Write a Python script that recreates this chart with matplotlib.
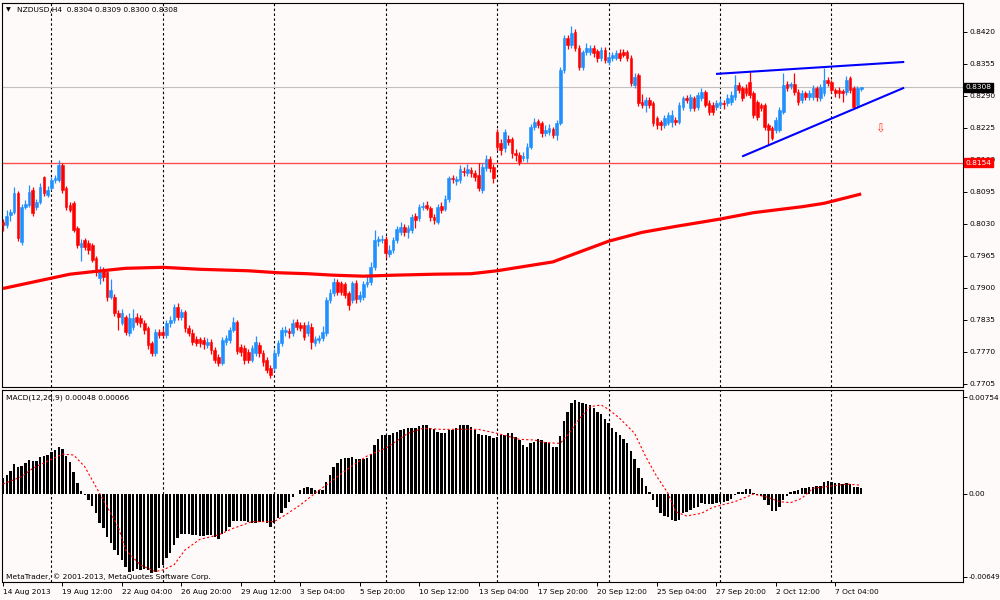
import numpy as np
import matplotlib
matplotlib.use('Agg')
import matplotlib.pyplot as plt
from matplotlib.transforms import blended_transform_factory

plt.rcParams['font.family'] = ['DejaVu Sans']

# NZDUSD H4 candles
opens = [
    0.8034, 0.8028, 0.8048, 0.8054, 0.8093, 0.7993, 0.8065, 0.8069, 0.8099, 0.8065,
    0.8075, 0.8125, 0.8089, 0.8103, 0.8119, 0.8119, 0.8150, 0.8103, 0.8069, 0.8073,
    0.8022, 0.7983, 0.7998, 0.7991, 0.7987, 0.7961, 0.7920, 0.7937, 0.7933, 0.7882,
    0.7882, 0.7849, 0.7829, 0.7841, 0.7809, 0.7821, 0.7841, 0.7839, 0.7829, 0.7819,
    0.7788, 0.7768, 0.7811, 0.7811, 0.7805, 0.7829, 0.7835, 0.7861, 0.7841, 0.7851,
    0.7819, 0.7809, 0.7796, 0.7796, 0.7794, 0.7784, 0.7790, 0.7774, 0.7760, 0.7748,
    0.7790, 0.7794, 0.7815, 0.7831, 0.7780, 0.7778, 0.7770, 0.7754, 0.7768, 0.7784,
    0.7768, 0.7754, 0.7738, 0.7738, 0.7768, 0.7788, 0.7811, 0.7813, 0.7809, 0.7831,
    0.7825, 0.7825, 0.7809, 0.7821, 0.7788, 0.7794, 0.7798, 0.7809, 0.7876, 0.7890,
    0.7912, 0.7910, 0.7908, 0.7890, 0.7876, 0.7910, 0.7878, 0.7882, 0.7908, 0.7912,
    0.7943, 0.7995, 0.7998, 0.8000, 0.7969, 0.7977, 0.7998, 0.8014, 0.8024, 0.8014,
    0.8018, 0.8046, 0.8042, 0.8065, 0.8069, 0.8063, 0.8044, 0.8034, 0.8067, 0.8061,
    0.8081, 0.8123, 0.8117, 0.8119, 0.8138, 0.8134, 0.8140, 0.8134, 0.8130, 0.8099,
    0.8144, 0.8162, 0.8146, 0.8217, 0.8195, 0.8184, 0.8203, 0.8203, 0.8174, 0.8170,
    0.8164, 0.8164, 0.8186, 0.8227, 0.8239, 0.8235, 0.8215, 0.8217, 0.8223, 0.8211,
    0.8235, 0.8343, 0.8408, 0.8394, 0.8420, 0.8388, 0.8349, 0.8379, 0.8379, 0.8388,
    0.8381, 0.8367, 0.8383, 0.8359, 0.8367, 0.8367, 0.8377, 0.8379, 0.8379, 0.8367,
    0.8312, 0.8333, 0.8278, 0.8272, 0.8282, 0.8276, 0.8245, 0.8237, 0.8231, 0.8235,
    0.8237, 0.8241, 0.8237, 0.8268, 0.8286, 0.8266, 0.8286, 0.8268, 0.8286, 0.8298,
    0.8276, 0.8272, 0.8268, 0.8272, 0.8276, 0.8276, 0.8278, 0.8288, 0.8312, 0.8306,
    0.8306, 0.8318, 0.8296, 0.8278, 0.8272, 0.8272, 0.8231, 0.8225, 0.8221, 0.8221,
    0.8258, 0.8314, 0.8310, 0.8314, 0.8298, 0.8282, 0.8296, 0.8288, 0.8288, 0.8306,
    0.8286, 0.8296, 0.8323, 0.8318, 0.8302, 0.8302, 0.8300, 0.8298, 0.8327, 0.8306,
    0.8272, 0.8304,
]
highs = [
    0.8040, 0.8058, 0.8060, 0.8105, 0.8097, 0.8071, 0.8079, 0.8109, 0.8105, 0.8081,
    0.8113, 0.8128, 0.8107, 0.8125, 0.8130, 0.8160, 0.8154, 0.8107, 0.8075, 0.8077,
    0.8026, 0.8000, 0.8002, 0.7998, 0.7991, 0.7965, 0.7945, 0.7943, 0.7937, 0.7918,
    0.7888, 0.7855, 0.7857, 0.7845, 0.7849, 0.7857, 0.7849, 0.7845, 0.7835, 0.7823,
    0.7792, 0.7817, 0.7817, 0.7819, 0.7835, 0.7843, 0.7867, 0.7869, 0.7857, 0.7855,
    0.7825, 0.7817, 0.7803, 0.7800, 0.7800, 0.7798, 0.7796, 0.7780, 0.7766, 0.7800,
    0.7805, 0.7821, 0.7841, 0.7835, 0.7786, 0.7784, 0.7776, 0.7784, 0.7803, 0.7790,
    0.7774, 0.7760, 0.7744, 0.7776, 0.7794, 0.7821, 0.7823, 0.7819, 0.7837, 0.7837,
    0.7831, 0.7831, 0.7833, 0.7829, 0.7803, 0.7805, 0.7823, 0.7882, 0.7898, 0.7920,
    0.7918, 0.7914, 0.7912, 0.7894, 0.7914, 0.7916, 0.7894, 0.7914, 0.7924, 0.7953,
    0.8018, 0.8006, 0.8008, 0.8006, 0.7987, 0.8004, 0.8026, 0.8034, 0.8030, 0.8028,
    0.8050, 0.8052, 0.8071, 0.8075, 0.8077, 0.8067, 0.8050, 0.8071, 0.8075, 0.8089,
    0.8128, 0.8130, 0.8128, 0.8150, 0.8146, 0.8152, 0.8146, 0.8140, 0.8154, 0.8154,
    0.8170, 0.8168, 0.8152, 0.8223, 0.8203, 0.8223, 0.8211, 0.8207, 0.8182, 0.8176,
    0.8176, 0.8195, 0.8233, 0.8245, 0.8243, 0.8239, 0.8231, 0.8233, 0.8227, 0.8241,
    0.8349, 0.8414, 0.8414, 0.8433, 0.8426, 0.8394, 0.8383, 0.8398, 0.8394, 0.8394,
    0.8386, 0.8390, 0.8390, 0.8377, 0.8379, 0.8383, 0.8386, 0.8386, 0.8383, 0.8373,
    0.8337, 0.8337, 0.8294, 0.8288, 0.8288, 0.8280, 0.8249, 0.8241, 0.8251, 0.8258,
    0.8262, 0.8247, 0.8278, 0.8290, 0.8292, 0.8294, 0.8290, 0.8298, 0.8306, 0.8302,
    0.8282, 0.8278, 0.8282, 0.8286, 0.8282, 0.8294, 0.8300, 0.8333, 0.8318, 0.8310,
    0.8314, 0.8339, 0.8300, 0.8282, 0.8276, 0.8276, 0.8235, 0.8229, 0.8247, 0.8268,
    0.8337, 0.8320, 0.8318, 0.8337, 0.8304, 0.8302, 0.8300, 0.8302, 0.8312, 0.8310,
    0.8314, 0.8347, 0.8329, 0.8323, 0.8306, 0.8308, 0.8304, 0.8331, 0.8331, 0.8310,
    0.8310, 0.8309,
]
lows = [
    0.8016, 0.8022, 0.8036, 0.8050, 0.7995, 0.7987, 0.8061, 0.8065, 0.8046, 0.8058,
    0.8071, 0.8087, 0.8085, 0.8099, 0.8113, 0.8115, 0.8093, 0.8058, 0.8054, 0.8014,
    0.7981, 0.7955, 0.7977, 0.7969, 0.7953, 0.7924, 0.7908, 0.7914, 0.7874, 0.7878,
    0.7843, 0.7815, 0.7825, 0.7805, 0.7803, 0.7815, 0.7825, 0.7821, 0.7807, 0.7776,
    0.7762, 0.7762, 0.7798, 0.7800, 0.7798, 0.7821, 0.7829, 0.7835, 0.7835, 0.7811,
    0.7803, 0.7784, 0.7782, 0.7780, 0.7776, 0.7778, 0.7766, 0.7748, 0.7742, 0.7744,
    0.7784, 0.7788, 0.7811, 0.7766, 0.7762, 0.7746, 0.7748, 0.7750, 0.7762, 0.7760,
    0.7742, 0.7727, 0.7717, 0.7732, 0.7762, 0.7782, 0.7803, 0.7798, 0.7803, 0.7815,
    0.7813, 0.7794, 0.7803, 0.7776, 0.7782, 0.7788, 0.7792, 0.7803, 0.7870, 0.7884,
    0.7886, 0.7886, 0.7880, 0.7855, 0.7870, 0.7870, 0.7872, 0.7876, 0.7902, 0.7906,
    0.7937, 0.7985, 0.7991, 0.7961, 0.7963, 0.7971, 0.7991, 0.8008, 0.8006, 0.8002,
    0.8012, 0.8022, 0.8036, 0.8058, 0.8058, 0.8036, 0.8030, 0.8030, 0.8052, 0.8056,
    0.8075, 0.8113, 0.8109, 0.8113, 0.8128, 0.8128, 0.8125, 0.8117, 0.8097, 0.8093,
    0.8138, 0.8136, 0.8113, 0.8180, 0.8170, 0.8176, 0.8190, 0.8164, 0.8158, 0.8150,
    0.8158, 0.8156, 0.8182, 0.8221, 0.8225, 0.8207, 0.8209, 0.8211, 0.8205, 0.8201,
    0.8231, 0.8337, 0.8386, 0.8388, 0.8381, 0.8343, 0.8343, 0.8373, 0.8373, 0.8369,
    0.8359, 0.8361, 0.8357, 0.8353, 0.8361, 0.8363, 0.8361, 0.8369, 0.8361, 0.8310,
    0.8306, 0.8270, 0.8266, 0.8258, 0.8266, 0.8229, 0.8223, 0.8221, 0.8225, 0.8231,
    0.8227, 0.8231, 0.8233, 0.8262, 0.8276, 0.8260, 0.8260, 0.8262, 0.8280, 0.8268,
    0.8251, 0.8251, 0.8262, 0.8266, 0.8264, 0.8270, 0.8272, 0.8282, 0.8296, 0.8280,
    0.8290, 0.8286, 0.8245, 0.8241, 0.8260, 0.8221, 0.8190, 0.8201, 0.8215, 0.8217,
    0.8254, 0.8300, 0.8304, 0.8292, 0.8272, 0.8276, 0.8282, 0.8282, 0.8282, 0.8280,
    0.8280, 0.8290, 0.8310, 0.8296, 0.8288, 0.8286, 0.8278, 0.8292, 0.8296, 0.8264,
    0.8266, 0.8300,
]
closes = [
    0.8028, 0.8046, 0.8054, 0.8093, 0.8002, 0.8065, 0.8071, 0.8095, 0.8052, 0.8075,
    0.8105, 0.8093, 0.8099, 0.8119, 0.8123, 0.8150, 0.8099, 0.8065, 0.8058, 0.8018,
    0.7987, 0.7991, 0.7983, 0.7977, 0.7957, 0.7933, 0.7937, 0.7922, 0.7882, 0.7896,
    0.7849, 0.7841, 0.7849, 0.7811, 0.7839, 0.7839, 0.7831, 0.7829, 0.7815, 0.7784,
    0.7768, 0.7811, 0.7805, 0.7805, 0.7829, 0.7835, 0.7861, 0.7841, 0.7851, 0.7819,
    0.7809, 0.7790, 0.7788, 0.7788, 0.7786, 0.7790, 0.7774, 0.7754, 0.7748, 0.7794,
    0.7798, 0.7815, 0.7831, 0.7772, 0.7770, 0.7754, 0.7754, 0.7778, 0.7790, 0.7768,
    0.7750, 0.7734, 0.7723, 0.7768, 0.7788, 0.7815, 0.7815, 0.7809, 0.7829, 0.7821,
    0.7819, 0.7800, 0.7825, 0.7790, 0.7796, 0.7798, 0.7811, 0.7876, 0.7890, 0.7912,
    0.7892, 0.7892, 0.7886, 0.7865, 0.7910, 0.7878, 0.7886, 0.7908, 0.7912, 0.7943,
    0.7998, 0.8000, 0.8000, 0.7971, 0.7977, 0.7998, 0.8020, 0.8024, 0.8014, 0.8022,
    0.8044, 0.8038, 0.8065, 0.8067, 0.8063, 0.8044, 0.8038, 0.8065, 0.8058, 0.8081,
    0.8123, 0.8121, 0.8121, 0.8142, 0.8136, 0.8142, 0.8134, 0.8125, 0.8103, 0.8146,
    0.8162, 0.8144, 0.8123, 0.8186, 0.8180, 0.8217, 0.8197, 0.8174, 0.8170, 0.8156,
    0.8168, 0.8186, 0.8227, 0.8237, 0.8231, 0.8215, 0.8221, 0.8225, 0.8211, 0.8235,
    0.8343, 0.8408, 0.8394, 0.8418, 0.8388, 0.8349, 0.8379, 0.8388, 0.8388, 0.8377,
    0.8367, 0.8383, 0.8363, 0.8369, 0.8373, 0.8377, 0.8367, 0.8373, 0.8367, 0.8316,
    0.8329, 0.8276, 0.8272, 0.8282, 0.8272, 0.8235, 0.8231, 0.8231, 0.8245, 0.8251,
    0.8251, 0.8237, 0.8272, 0.8286, 0.8282, 0.8288, 0.8266, 0.8292, 0.8298, 0.8272,
    0.8258, 0.8258, 0.8276, 0.8278, 0.8274, 0.8286, 0.8292, 0.8312, 0.8302, 0.8286,
    0.8296, 0.8292, 0.8251, 0.8247, 0.8266, 0.8227, 0.8221, 0.8205, 0.8241, 0.8262,
    0.8312, 0.8306, 0.8314, 0.8298, 0.8278, 0.8296, 0.8288, 0.8296, 0.8306, 0.8288,
    0.8308, 0.8323, 0.8316, 0.8302, 0.8296, 0.8296, 0.8296, 0.8323, 0.8302, 0.8268,
    0.8306, 0.8308,
]

# MACD(12,26,9) main line drawn as histogram
macd_hist = [
    0.00120, 0.00146, 0.00179, 0.00231, 0.00205, 0.00216, 0.00237, 0.00263, 0.00257, 0.00257,
    0.00289, 0.00294, 0.00302, 0.00328, 0.00341, 0.00367, 0.00346, 0.00294, 0.00250, 0.00172,
    0.00086, 0.00021, -0.00010, -0.00049, -0.00096, -0.00153, -0.00226, -0.00270, -0.00335, -0.00387,
    -0.00439, -0.00478, -0.00517, -0.00569, -0.00608, -0.00601, -0.00590, -0.00595, -0.00590, -0.00595,
    -0.00616, -0.00608, -0.00582, -0.00556, -0.00504, -0.00460, -0.00400, -0.00348, -0.00315, -0.00315,
    -0.00315, -0.00322, -0.00322, -0.00330, -0.00330, -0.00322, -0.00322, -0.00335, -0.00356, -0.00315,
    -0.00289, -0.00257, -0.00211, -0.00211, -0.00211, -0.00211, -0.00218, -0.00226, -0.00231, -0.00218,
    -0.00218, -0.00231, -0.00257, -0.00231, -0.00192, -0.00148, -0.00114, -0.00062, -0.00029, -0.00003,
    0.00029, 0.00042, 0.00055, 0.00042, 0.00029, 0.00029, 0.00029, 0.00094, 0.00146, 0.00205,
    0.00242, 0.00268, 0.00281, 0.00281, 0.00289, 0.00268, 0.00268, 0.00273, 0.00276, 0.00309,
    0.00380, 0.00424, 0.00458, 0.00458, 0.00458, 0.00471, 0.00484, 0.00497, 0.00502, 0.00510,
    0.00510, 0.00510, 0.00528, 0.00536, 0.00536, 0.00510, 0.00502, 0.00484, 0.00471, 0.00471,
    0.00497, 0.00497, 0.00510, 0.00536, 0.00536, 0.00536, 0.00523, 0.00497, 0.00465, 0.00458,
    0.00458, 0.00450, 0.00432, 0.00445, 0.00458, 0.00458, 0.00471, 0.00476, 0.00445, 0.00419,
    0.00380, 0.00367, 0.00393, 0.00406, 0.00424, 0.00419, 0.00406, 0.00398, 0.00367, 0.00367,
    0.00450, 0.00569, 0.00640, 0.00710, 0.00731, 0.00718, 0.00710, 0.00699, 0.00692, 0.00666,
    0.00640, 0.00621, 0.00580, 0.00549, 0.00510, 0.00484, 0.00458, 0.00424, 0.00393, 0.00335,
    0.00268, 0.00198, 0.00120, 0.00060, 0.00016, -0.00049, -0.00107, -0.00153, -0.00174, -0.00185,
    -0.00205, -0.00213, -0.00205, -0.00153, -0.00140, -0.00127, -0.00114, -0.00107, -0.00075, -0.00081,
    -0.00081, -0.00081, -0.00075, -0.00062, -0.00062, -0.00055, -0.00044, -0.00010, 0.00016, 0.00016,
    0.00034, 0.00034, 0.00003, -0.00010, -0.00018, -0.00049, -0.00088, -0.00133, -0.00133, -0.00101,
    -0.00049, -0.00018, 0.00016, 0.00023, 0.00029, 0.00042, 0.00047, 0.00049, 0.00055, 0.00060,
    0.00060, 0.00094, 0.00101, 0.00094, 0.00086, 0.00081, 0.00075, 0.00081, 0.00075, 0.00049,
    0.00049, 0.00048,
]

# signal line (red dotted), read at these bars
signal_bars = [0, 5, 8, 13, 16, 19, 22, 25, 28, 31, 33, 37, 41, 43, 46, 49, 53, 58, 62, 67,
               73, 76, 80, 84, 87, 93, 98, 103, 109, 113, 118, 123, 128, 133, 139, 143, 146,
               150, 152, 155, 158, 161, 163, 166, 170, 173, 176, 179, 181, 184, 188, 191, 197,
               202, 206, 209, 212, 215, 218, 223, 227, 231]
signal_vals = [0.00075, 0.00133, 0.00198, 0.00268, 0.00309, 0.00302, 0.00211, 0.00055, -0.00101,
               -0.00257, -0.00439, -0.00556, -0.00608, -0.00595, -0.00556, -0.00439, -0.00356,
               -0.00322, -0.00270, -0.00218, -0.00218, -0.00166, -0.00088, 0.00003, 0.00068,
               0.00198, 0.00294, 0.00354, 0.00471, 0.00510, 0.00502, 0.00502, 0.00502, 0.00471,
               0.00424, 0.00419, 0.00398, 0.00393, 0.00458, 0.00580, 0.00679, 0.00692, 0.00658,
               0.00588, 0.00471, 0.00289, 0.00133, 0.00003, -0.00140, -0.00174, -0.00153,
               -0.00107, -0.00062, -0.00003, -0.00029, -0.00062, -0.00070, -0.00036, 0.00042,
               0.00060, 0.00075, 0.00066]

# thick red moving average
ma_bars = [0, 13, 18, 24, 33, 43, 53, 66, 74, 82, 89, 97, 105, 116, 126, 133, 148, 163,
           172, 181, 193, 202, 215, 221, 231]
ma_vals = [0.7899, 0.7920, 0.7928, 0.7933, 0.7940, 0.7942, 0.7938, 0.7935, 0.7931, 0.7929,
           0.7926, 0.7924, 0.7926, 0.7928, 0.7929, 0.7935, 0.7953, 0.7995, 0.8013, 0.8025,
           0.8040, 0.8053, 0.8065, 0.8072, 0.8091]

# hand drawn objects
upper_trend_bars = [192.2, 242.3]
upper_trend_prices = [0.8335, 0.8359]
lower_trend_bars = [199.2, 242.3]
lower_trend_prices = [0.8168, 0.8306]
arrow_bar = 236
arrow_price = 0.8223
support_level = 0.8154
bid_price = 0.8308

date_bars = [0, 16, 32, 48, 64, 80, 96, 112, 128, 144, 160, 176, 192, 208, 224]
date_labels = ['14 Aug 2013', '19 Aug 12:00', '22 Aug 04:00', '26 Aug 20:00', '29 Aug 12:00',
               '3 Sep 04:00', '5 Sep 20:00', '10 Sep 12:00', '13 Sep 04:00', '17 Sep 20:00',
               '20 Sep 12:00', '25 Sep 04:00', '27 Sep 20:00', '2 Oct 12:00', '7 Oct 04:00']
week_bars = [13, 43, 73, 103, 133, 163, 193, 223]
price_ticks = [0.8420, 0.8355, 0.8290, 0.8225, 0.8160, 0.8095, 0.8030, 0.7965, 0.7900,
               0.7835, 0.7770, 0.7705]
macd_ticks = [0.00754, 0.0, -0.00649]
macd_tick_labels = ['0.00754', '0.00', '-0.00649']

BG = '#fffafa'
BULL = '#1e90ff'
BEAR = '#ff0000'
FS = 5.4

fig = plt.figure(figsize=(10, 6), dpi=100, facecolor=BG)
ax1 = fig.add_axes([0.002, 0.355, 0.961, 0.64], facecolor=BG)
ax2 = fig.add_axes([0.002, 0.03, 0.961, 0.32], facecolor=BG, sharex=ax1)

o = np.array(opens)
h = np.array(highs)
l = np.array(lows)
c = np.array(closes)
x = np.arange(len(c))
colors = np.where(c >= o, BULL, BEAR)

for ax in (ax1, ax2):
    for b in week_bars:
        ax.axvline(b, color='black', lw=0.8, ls=(0, (2.2, 2.2)), zorder=1)
    for sp in ax.spines.values():
        sp.set_color('black')
        sp.set_linewidth(0.8)

# price panel
ax1.axhline(support_level, color='#ff4d4d', lw=1.0, zorder=2)
ax1.axhline(bid_price, color='#c0c0c0', lw=0.8, zorder=2)
ax1.vlines(x, l, h, colors=colors, lw=0.9, zorder=3)
ax1.bar(x, np.abs(c - o), bottom=np.minimum(o, c), width=0.72, color=colors,
        edgecolor=colors, linewidth=0.4, zorder=4)
ax1.plot(ma_bars, ma_vals, color='#ff0000', lw=2.3, zorder=5, solid_capstyle='butt')
ax1.plot(upper_trend_bars, upper_trend_prices, color='#0000ff', lw=1.5, zorder=6)
ax1.plot(lower_trend_bars, lower_trend_prices, color='#0000ff', lw=1.5, zorder=6)
ax1.text(arrow_bar, arrow_price, '\u21e9', color='#ff3b1f', fontsize=8.5,
         ha='center', va='center', zorder=6)

ax1.set_xlim(-0.27, 258.4)
ax1.set_ylim(0.76989, 0.84789)
ax1.yaxis.tick_right()
ax1.set_yticks(price_ticks)
ax1.set_yticklabels([f'{v:.4f}' for v in price_ticks])
ax1.tick_params(axis='y', direction='out', length=3, width=0.7, labelsize=FS, pad=1.5)
ax1.tick_params(axis='x', bottom=False, labelbottom=False)

trans = blended_transform_factory(ax1.transAxes, ax1.transData)
ax1.text(1.0025, bid_price, f'{bid_price:.4f}', transform=trans, ha='left', va='center',
         color='white', fontsize=FS, zorder=10, clip_on=False,
         bbox=dict(boxstyle='square,pad=0.2', facecolor='black', edgecolor='black'))
ax1.text(1.0025, support_level, f'{support_level:.4f}', transform=trans, ha='left',
         va='center', color='white', fontsize=FS, zorder=10, clip_on=False,
         bbox=dict(boxstyle='square,pad=0.2', facecolor='#ff0000', edgecolor='#ff0000'))

# MACD panel
ax2.bar(x, macd_hist, width=0.65, color='black', linewidth=0, zorder=3)
ax2.plot(signal_bars, signal_vals, color='#ff0000', lw=0.8, ls=(0, (2, 2)), zorder=4)
ax2.set_ylim(-0.00689, 0.00809)
ax2.yaxis.tick_right()
ax2.set_yticks(macd_ticks)
ax2.set_yticklabels(macd_tick_labels)
ax2.tick_params(axis='y', direction='out', length=3, width=0.7, labelsize=FS, pad=0.8)
ax2.get_yticklabels()[-1].set_fontsize(5.0)
ax2.set_xticks(date_bars)
ax2.set_xticklabels(date_labels, ha='left')
ax2.tick_params(axis='x', direction='out', length=3, width=0.7, labelsize=FS, pad=2)

fig.text(0.0055, 1 - 10 / 600, '\u25bc', fontsize=4.5, va='center', ha='left')
fig.text(0.017, 1 - 10 / 600, 'NZDUSD,H4  0.8304 0.8309 0.8300 0.8308', fontsize=FS,
         va='center', ha='left')
fig.text(0.0065, 1 - 398 / 600, 'MACD(12,26,9) 0.00048 0.00066', fontsize=FS,
         va='center', ha='left')
fig.text(0.0065, 1 - 577 / 600, 'MetaTrader, \u00a9 2001-2013, MetaQuotes Software Corp.',
         fontsize=FS, va='center', ha='left')

fig.savefig('out.png', dpi=100, facecolor=BG)
